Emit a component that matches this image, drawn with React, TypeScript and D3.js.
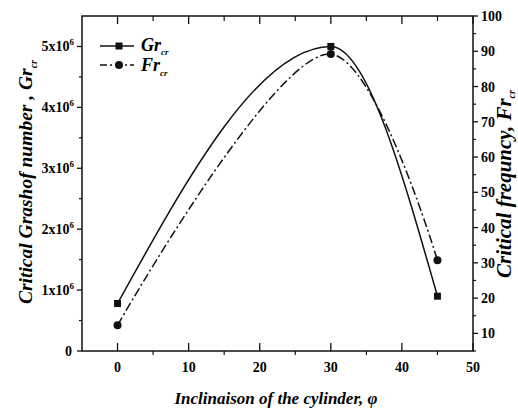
import React from 'react';
import * as d3 from 'd3';

// inclination angle (deg)
const angles = [0, 30, 45];
// critical Grashof number
const grValues = [0.78e6, 5.0e6, 0.9e6];
// critical frequency
const frValues = [12.3, 89.2, 30.7];

const xTicks = [0, 10, 20, 30, 40, 50];
const xMinor = [5, 15, 25, 35, 45];
const grTicks = [0, 1, 2, 3, 4, 5];
const grMinor = [0.5, 1.5, 2.5, 3.5, 4.5];
const frTicks = [10, 20, 30, 40, 50, 60, 70, 80, 90, 100];
const frMinor = [5, 15, 25, 35, 45, 55, 65, 75, 85, 95];

const W = 518;
const H = 408;
const m = { left: 82, right: 473, top: 16, bottom: 351 };
const serif = 'Liberation Serif, DejaVu Serif, serif';

const App: React.FC = () => {
  const x = d3.scaleLinear().domain([-5, 50]).range([m.left, m.right]);
  const yGr = d3.scaleLinear().domain([0, 5.5e6]).range([m.bottom, m.top]);
  const yFr = d3.scaleLinear().domain([5, 100]).range([m.bottom, m.top]);

  const grLine = d3.line<number>()
    .x((_, i) => x(angles[i]))
    .y((d) => yGr(d))
    .curve(d3.curveMonotoneX);
  const frLine = d3.line<number>()
    .x((_, i) => x(angles[i]))
    .y((d) => yFr(d))
    .curve(d3.curveCatmullRom.alpha(0.5));

  const dashDot = '9,3,2,3';
  const stroke = '#111';
  const tick = { fontFamily: serif, fontSize: 14, fontWeight: 'bold' as const };
  const title = { fontFamily: serif, fontWeight: 'bold' as const, fontStyle: 'italic' as const };

  return (
    <svg width={W} height={H} style={{ position: 'absolute', left: 0, top: 0, background: '#fff' }}>
      <rect x={0} y={0} width={W} height={H} fill="#fff" />

      {/* frame */}
      <rect x={m.left} y={m.top} width={m.right - m.left} height={m.bottom - m.top}
        fill="none" stroke={stroke} strokeWidth={1.5} />

      {/* bottom / top axes */}
      {xTicks.map((t) => (
        <g key={'xb' + t}>
          <line x1={x(t)} x2={x(t)} y1={m.bottom} y2={m.bottom - 8} stroke={stroke} strokeWidth={1.3} />
          <line x1={x(t)} x2={x(t)} y1={m.top} y2={m.top + 8} stroke={stroke} strokeWidth={1.3} />
          <text x={x(t)} y={372} textAnchor="middle" style={tick}>{t}</text>
        </g>
      ))}
      {xMinor.map((t) => (
        <g key={'xm' + t}>
          <line x1={x(t)} x2={x(t)} y1={m.bottom} y2={m.bottom + 4} stroke={stroke} strokeWidth={1.2} />
          <line x1={x(t)} x2={x(t)} y1={m.top} y2={m.top + 5} stroke={stroke} strokeWidth={1.2} />
        </g>
      ))}

      {/* left axis */}
      {grTicks.map((t) => (
        <g key={'gl' + t}>
          <line x1={m.left} x2={m.left - 5} y1={yGr(t * 1e6)} y2={yGr(t * 1e6)} stroke={stroke} strokeWidth={1.3} />
          {t === 0 ? (
            <text x={72} y={yGr(0) + 5} textAnchor="end" style={tick}>0</text>
          ) : (
            <text x={74} y={yGr(t * 1e6) + 5} textAnchor="end" style={tick}>
              {t}x10<tspan style={{ fontSize: 9 }} dy={-6}>6</tspan>
            </text>
          )}
        </g>
      ))}
      {grMinor.map((t) => (
        <line key={'glm' + t} x1={m.left} x2={m.left - 3} y1={yGr(t * 1e6)} y2={yGr(t * 1e6)}
          stroke={stroke} strokeWidth={1.2} />
      ))}

      {/* right axis */}
      {frTicks.map((t) => (
        <g key={'fr' + t}>
          <line x1={m.right} x2={m.right + 5} y1={yFr(t)} y2={yFr(t)} stroke={stroke} strokeWidth={1.3} />
          <text x={481} y={yFr(t) + 5} style={tick}>{t}</text>
        </g>
      ))}
      {frMinor.map((t) => (
        <line key={'frm' + t} x1={m.right} x2={m.right + 3} y1={yFr(t)} y2={yFr(t)}
          stroke={stroke} strokeWidth={1.2} />
      ))}

      {/* curves */}
      <path d={grLine(grValues) || ''} fill="none" stroke={stroke} strokeWidth={1.5} />
      <path d={frLine(frValues) || ''} fill="none" stroke={stroke} strokeWidth={1.5} strokeDasharray={dashDot} />

      {/* markers */}
      {grValues.map((v, i) => (
        <rect key={'sq' + i} x={x(angles[i]) - 3.5} y={yGr(v) - 3.5} width={7} height={7} fill={stroke} />
      ))}
      {frValues.map((v, i) => (
        <circle key={'ci' + i} cx={x(angles[i])} cy={yFr(v)} r={4} fill={stroke} />
      ))}

      {/* legend */}
      <line x1={100} x2={134} y1={46} y2={46} stroke={stroke} strokeWidth={1.5} />
      <rect x={115.5} y={42.5} width={7} height={7} fill={stroke} />
      <text x={141} y={51} style={{ ...title, fontSize: 18 }}>
        Gr<tspan style={{ fontSize: 9 }} dy={4}>cr</tspan>
      </text>
      <line x1={100} x2={134} y1={65} y2={65} stroke={stroke} strokeWidth={1.5} strokeDasharray="7,3,2,3" />
      <circle cx={119} cy={65} r={4} fill={stroke} />
      <text x={141} y={71} style={{ ...title, fontSize: 18 }}>
        Fr<tspan style={{ fontSize: 9 }} dy={5}>cr</tspan>
      </text>

      {/* axis titles */}
      <text transform="translate(32,182) rotate(-90)" textAnchor="middle" style={{ ...title, fontSize: 19.5 }}>
        Critical Grashof number , Gr<tspan style={{ fontSize: 10 }} dy={5}>cr</tspan>
      </text>
      <text transform="translate(511,184) rotate(-90)" textAnchor="middle" style={{ ...title, fontSize: 21 }}>
        Critical frequncy, Fr<tspan style={{ fontSize: 10 }} dy={4}>cr</tspan>
      </text>
      <text x={276} y={404} textAnchor="middle" style={{ ...title, fontSize: 17 }}>
        Inclinaison of the cylinder, φ
      </text>
    </svg>
  );
};

export default App;
